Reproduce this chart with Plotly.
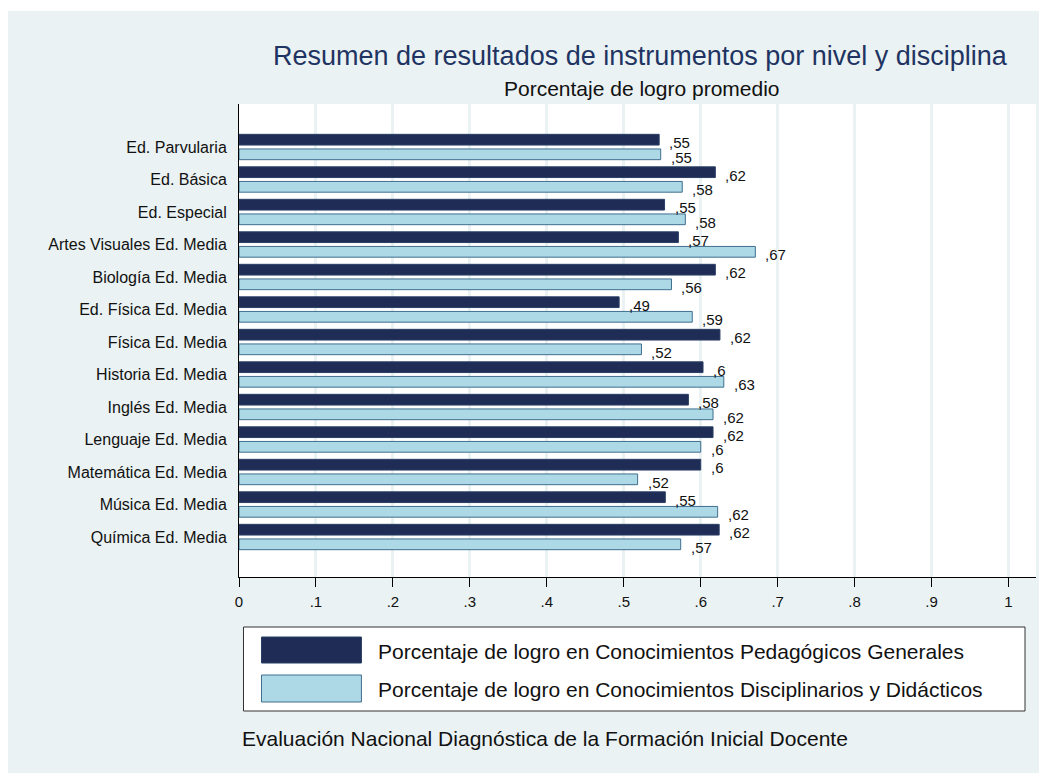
import plotly.graph_objects as go

categories = ["Ed. Parvularia", "Ed. Básica", "Ed. Especial", "Artes Visuales Ed. Media",
              "Biología Ed. Media", "Ed. Física Ed. Media", "Física Ed. Media",
              "Historia Ed. Media", "Inglés Ed. Media", "Lenguaje Ed. Media",
              "Matemática Ed. Media", "Música Ed. Media", "Química Ed. Media"]
pedagogicos = [0.546, 0.619, 0.553, 0.571, 0.619, 0.494, 0.625,
               0.603, 0.584, 0.616, 0.600, 0.554, 0.624]
disciplinarios = [0.548, 0.576, 0.580, 0.671, 0.562, 0.589, 0.523,
                  0.630, 0.616, 0.600, 0.518, 0.622, 0.574]
series_names = ["Porcentaje de logro en Conocimientos Pedagógicos Generales",
                "Porcentaje de logro en Conocimientos Disciplinarios y Didácticos"]
x_tickvals = [0, 0.1, 0.2, 0.3, 0.4, 0.5, 0.6, 0.7, 0.8, 0.9, 1.0]
x_ticktext = ["0", ".1", ".2", ".3", ".4", ".5", ".6", ".7", ".8", ".9", "1"]
title_text = "Resumen de resultados de instrumentos por nivel y disciplina"
subtitle_text = "Porcentaje de logro promedio"
note_text = "Evaluación Nacional Diagnóstica de la Formación Inicial Docente"

DARK = "#1F2D56"
DARK_LINE = "#2A3F66"
LIGHT = "#ADD8E6"
LIGHT_LINE = "#3F6F8E"
BG = "#EAF2F3"
FONT = "Liberation Sans, Arial, sans-serif"

# page coordinates (the html body adds an 8px margin)
OFF = 8
PAGE_W, PAGE_H = 1047, 773
W, H = PAGE_W - OFF, PAGE_H - OFF
L, R, T, B = 238.5, 1036, 104, 577   # plot area in page pixels
UNIT = 770  # pixels per 1.0 on x


def px(p):
    return (p - L) / (R - L)


def py(p):
    return (B - p) / (B - T)


def fmt(v):
    s = f"{v:.2f}".rstrip("0").rstrip(".")
    return s.replace("0.", ",", 1) if s.startswith("0.") else s


idx = list(range(len(categories)))
BW = 0.33
OFF_D = -0.39
OFF_L = 0.06

fig = go.Figure()
fig.add_trace(go.Bar(x=pedagogicos, y=idx, orientation="h", name=series_names[0],
                     width=BW, offset=OFF_D,
                     marker=dict(color=DARK, line=dict(color=DARK_LINE, width=1)),
                     showlegend=False))
fig.add_trace(go.Bar(x=disciplinarios, y=idx, orientation="h", name=series_names[1],
                     width=BW, offset=OFF_L,
                     marker=dict(color=LIGHT, line=dict(color=LIGHT_LINE, width=1)),
                     showlegend=False))

annotations = []
for i, (a, b) in enumerate(zip(pedagogicos, disciplinarios)):
    for v, off in ((a, OFF_D), (b, OFF_L)):
        annotations.append(dict(x=v, y=i + off + BW / 2, xref="x", yref="y",
                                text=fmt(v), showarrow=False, xanchor="left",
                                yanchor="middle", xshift=8, yshift=-3,
                                font=dict(family=FONT, size=15, color="#111111")))

annotations.append(dict(x=px(640), y=py(56), xref="paper", yref="paper", text=title_text,
                        showarrow=False, xanchor="center", yanchor="middle",
                        font=dict(family=FONT, size=27, color="#1F3462")))
annotations.append(dict(x=px(642), y=py(88), xref="paper", yref="paper", text=subtitle_text,
                        showarrow=False, xanchor="center", yanchor="middle",
                        font=dict(family=FONT, size=21, color="#111111")))
annotations.append(dict(x=px(240), y=py(738), xref="paper", yref="paper", text=note_text,
                        showarrow=False, xanchor="left", yanchor="middle",
                        font=dict(family=FONT, size=21, color="#111111")))
for k, yc in enumerate((651, 689)):
    annotations.append(dict(x=px(376), y=py(yc), xref="paper", yref="paper",
                            text=series_names[k], showarrow=False, xanchor="left",
                            yanchor="middle",
                            font=dict(family=FONT, size=21, color="#111111")))

shapes = [
    dict(type="rect", xref="paper", yref="paper", x0=px(0), x1=px(PAGE_W + 20),
         y0=py(-20), y1=py(11), fillcolor="white", line=dict(width=0), layer="above"),
    dict(type="rect", xref="paper", yref="paper", x0=px(243), x1=px(1025), y0=py(711), y1=py(627),
         fillcolor="white", line=dict(color="#333333", width=1)),
    dict(type="rect", xref="paper", yref="paper", x0=px(261), x1=px(361), y0=py(663), y1=py(637),
         fillcolor=DARK, line=dict(color=DARK_LINE, width=1)),
    dict(type="rect", xref="paper", yref="paper", x0=px(261), x1=px(361), y0=py(702), y1=py(675),
         fillcolor=LIGHT, line=dict(color=LIGHT_LINE, width=1)),
]

fig.update_layout(
    width=W, height=H,
    margin=dict(l=L - OFF, r=W - (R - OFF), t=T - OFF, b=H - (B - OFF), pad=0),
    paper_bgcolor=BG, plot_bgcolor="white",
    font=dict(family=FONT, size=15, color="#111111"),
    barmode="overlay",
    annotations=annotations, shapes=shapes,
    xaxis=dict(range=[0, (R - L) / UNIT], tickvals=x_tickvals, ticktext=x_ticktext,
               showgrid=True, gridcolor=BG, gridwidth=2.5, zeroline=False,
               showline=True, linecolor="black", linewidth=1,
               ticks="outside", ticklen=9, tickcolor="black", tickwidth=1,
               ticklabelstandoff=2,
               tickfont=dict(family=FONT, size=15, color="#111111")),
    yaxis=dict(range=[len(categories) - 1 + 40 / 32.5, -43 / 32.5],
               tickvals=idx, ticktext=categories, showgrid=False, zeroline=False,
               showline=True, linecolor="black", linewidth=1, ticks="",
               ticklabelstandoff=8,
               tickfont=dict(family=FONT, size=16, color="#111111")),
)

fig.write_html("out.html")
